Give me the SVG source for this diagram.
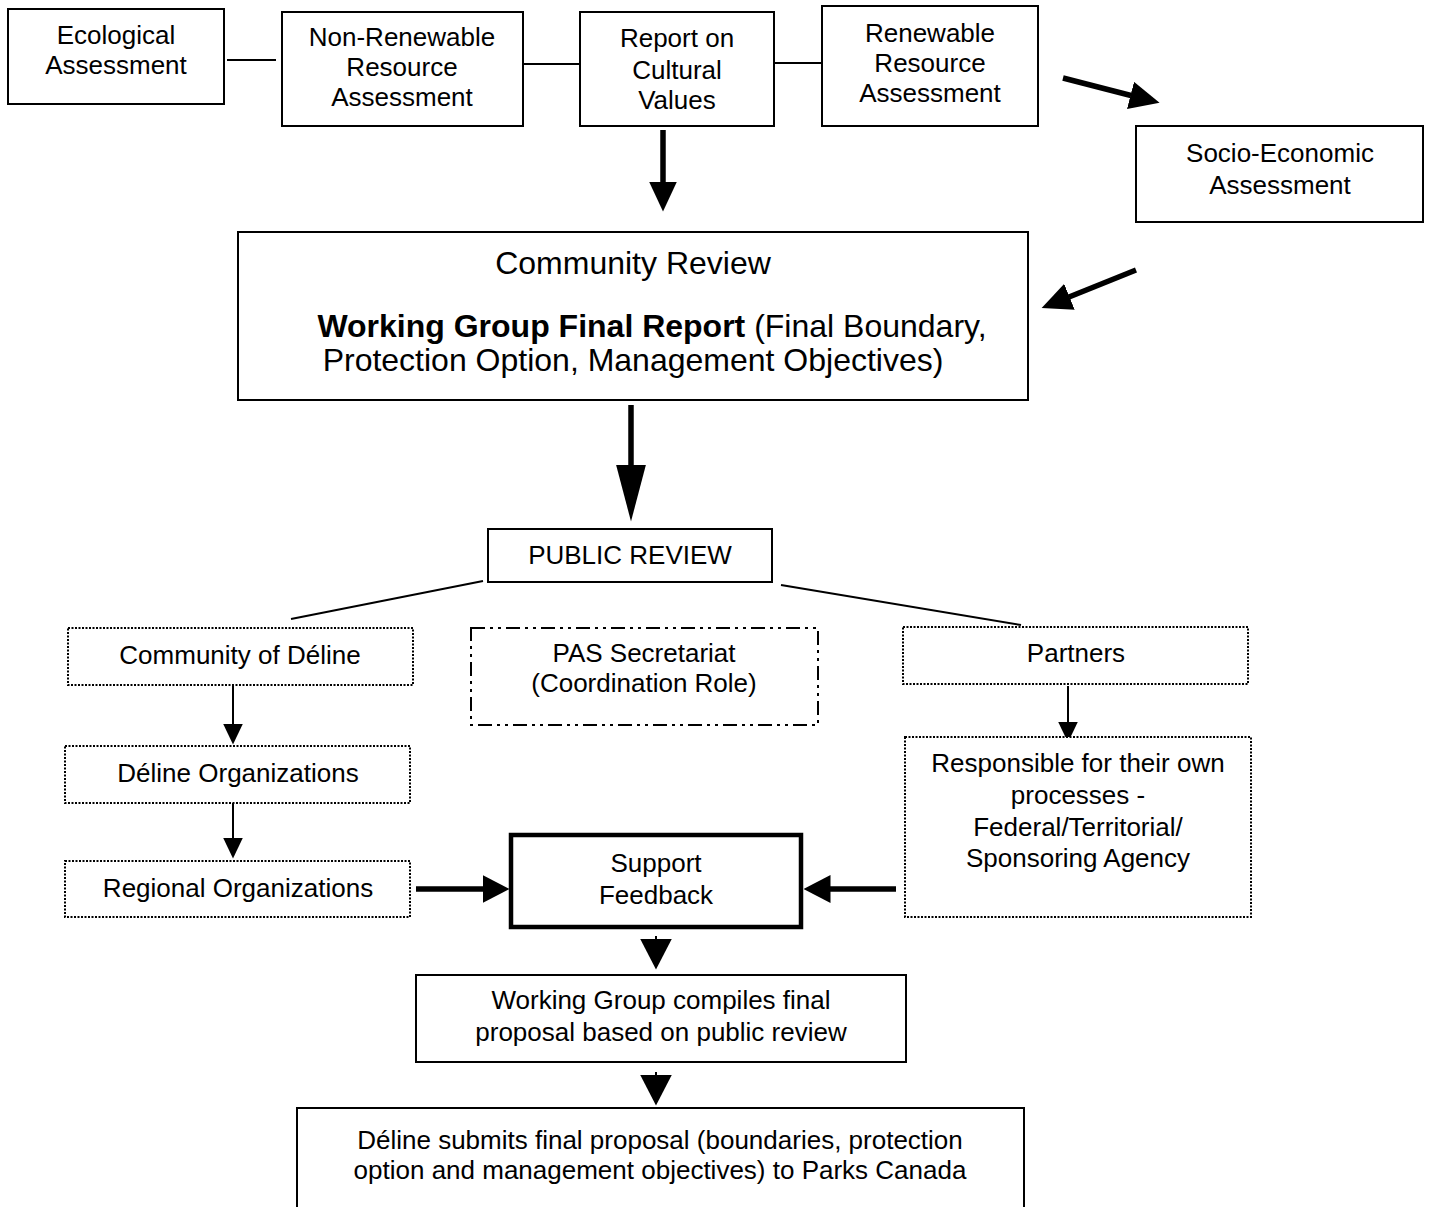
<svg xmlns="http://www.w3.org/2000/svg" width="1431" height="1207" viewBox="0 0 1431 1207">
<style>
text{font-family:"Liberation Sans",Arial,sans-serif;font-size:26px;fill:#000;text-anchor:middle}
.big{font-size:32px}
.b{font-weight:bold}
.box{fill:#fff;stroke:#000;stroke-width:2}
.dot{fill:#fff;stroke:#000;stroke-width:2;stroke-dasharray:2 1.5}
.dd{fill:#fff;stroke:#000;stroke-width:2;stroke-dasharray:14 5 3 5 3 5}
.thick{fill:#fff;stroke:#000;stroke-width:4.5}
.ln{stroke:#000;stroke-width:2;fill:none}
.w5{stroke:#000;stroke-width:5.5;fill:none}
.w2{stroke:#000;stroke-width:2;fill:none}
</style>
<defs>
<marker id="mBig" markerUnits="userSpaceOnUse" viewBox="0 0 30 28" markerWidth="30" markerHeight="28" refX="0.5" refY="14" orient="auto"><path d="M0,0 L30,14 L0,28 z" fill="#000"/></marker>
<marker id="mLong" markerUnits="userSpaceOnUse" viewBox="0 0 57 30" markerWidth="57" markerHeight="30" refX="0.5" refY="15" orient="auto"><path d="M0,0 L57,15 L0,30 z" fill="#000"/></marker>
<marker id="mSm" markerUnits="userSpaceOnUse" viewBox="0 0 21 20" markerWidth="21" markerHeight="20" refX="0.5" refY="10" orient="auto"><path d="M0,0 L21,10 L0,20 z" fill="#000"/></marker>
<marker id="mMid" markerUnits="userSpaceOnUse" viewBox="0 0 27 28" markerWidth="27" markerHeight="28" refX="0.5" refY="14" orient="auto"><path d="M0,0 L27,14 L0,28 z" fill="#000"/></marker>
<marker id="mDown" markerUnits="userSpaceOnUse" viewBox="0 0 31 32" markerWidth="31" markerHeight="32" refX="0.5" refY="16" orient="auto"><path d="M0,0 L31,16 L0,32 z" fill="#000"/></marker>
</defs>

<g id="connectors">
<line class="ln" x1="227" y1="60" x2="276" y2="60"/>
<line class="ln" x1="524" y1="64" x2="580" y2="64"/>
<line class="ln" x1="774" y1="63" x2="822" y2="63"/>
<line class="w5" x1="1063" y1="78" x2="1131" y2="95.5" marker-end="url(#mBig)"/>
<line class="w5" x1="1136" y1="270" x2="1069" y2="297" marker-end="url(#mBig)"/>
<line class="w5" x1="663" y1="130" x2="663" y2="182" marker-end="url(#mBig)"/>
<line class="w5" x1="631" y1="405" x2="631" y2="465" marker-end="url(#mLong)"/>
<line class="ln" x1="483" y1="581" x2="291" y2="619"/>
<line class="ln" x1="781" y1="585" x2="1021" y2="625"/>
<line class="w2" x1="233" y1="686" x2="233" y2="724" marker-end="url(#mSm)"/>
<line class="w2" x1="233" y1="803" x2="233" y2="838" marker-end="url(#mSm)"/>
<line class="w2" x1="1068" y1="686" x2="1068" y2="722" marker-end="url(#mSm)"/>
<line class="w5" x1="416" y1="889" x2="483" y2="889" marker-end="url(#mMid)"/>
<line class="w5" x1="896" y1="889" x2="830" y2="889" marker-end="url(#mMid)"/>
<line class="w2" x1="656" y1="936" x2="656" y2="939" marker-end="url(#mDown)"/>
<line class="w2" x1="656" y1="1072" x2="656" y2="1075" marker-end="url(#mDown)"/>
</g>

<g id="ecological">
<rect class="box" x="8" y="9" width="216" height="95"/>
<text x="116" y="44">Ecological</text>
<text x="116" y="74">Assessment</text>
</g>
<g id="nonrenewable">
<rect class="box" x="282" y="12" width="241" height="114"/>
<text x="402" y="46">Non-Renewable</text>
<text x="402" y="76">Resource</text>
<text x="402" y="106">Assessment</text>
</g>
<g id="report">
<rect class="box" x="580" y="12" width="194" height="114"/>
<text x="677" y="47">Report on</text>
<text x="677" y="79">Cultural</text>
<text x="677" y="109">Values</text>
</g>
<g id="renewable">
<rect class="box" x="822" y="6" width="216" height="120"/>
<text x="930" y="42">Renewable</text>
<text x="930" y="72">Resource</text>
<text x="930" y="102">Assessment</text>
</g>
<g id="socio">
<rect class="box" x="1136" y="126" width="287" height="96"/>
<text x="1280" y="162">Socio-Economic</text>
<text x="1280" y="194">Assessment</text>
</g>
<g id="community-review">
<rect class="box" x="238" y="232" width="790" height="168"/>
<text class="big" x="633" y="274">Community Review</text>
<text class="big" x="652" y="337"><tspan class="b">Working Group Final Report</tspan> (Final Boundary,</text>
<text class="big" x="633" y="371">Protection Option, Management Objectives)</text>
</g>
<g id="public-review">
<rect class="box" x="488" y="529" width="284" height="53"/>
<text x="630" y="564">PUBLIC REVIEW</text>
</g>
<g id="community-deline">
<rect class="dot" x="68" y="628" width="345" height="57"/>
<text x="240" y="664">Community of Déline</text>
</g>
<g id="pas">
<rect class="dd" x="471" y="628" width="347" height="97"/>
<text x="644" y="662">PAS Secretariat</text>
<text x="644" y="692">(Coordination Role)</text>
</g>
<g id="partners">
<rect class="dot" x="903" y="627" width="345" height="57"/>
<text x="1076" y="662">Partners</text>
</g>
<g id="deline-orgs">
<rect class="dot" x="65" y="746" width="345" height="57"/>
<text x="238" y="782">Déline Organizations</text>
</g>
<g id="regional-orgs">
<rect class="dot" x="65" y="861" width="345" height="56"/>
<text x="238" y="897">Regional Organizations</text>
</g>
<g id="responsible">
<rect class="dot" x="905" y="737" width="346" height="180"/>
<text x="1078" y="772">Responsible for their own</text>
<text x="1078" y="804">processes -</text>
<text x="1078" y="836">Federal/Territorial/</text>
<text x="1078" y="867">Sponsoring Agency</text>
</g>
<g id="support">
<rect class="thick" x="511" y="835" width="290" height="92"/>
<text x="656" y="872">Support</text>
<text x="656" y="904">Feedback</text>
</g>
<g id="wg-compiles">
<rect class="box" x="416" y="975" width="490" height="87"/>
<text x="661" y="1009">Working Group compiles final</text>
<text x="661" y="1041">proposal based on public review</text>
</g>
<g id="deline-submits">
<rect class="box" x="297" y="1108" width="727" height="120"/>
<text x="660" y="1149">Déline submits final proposal (boundaries, protection</text>
<text x="660" y="1179">option and management objectives) to Parks Canada</text>
</g>
</svg>
